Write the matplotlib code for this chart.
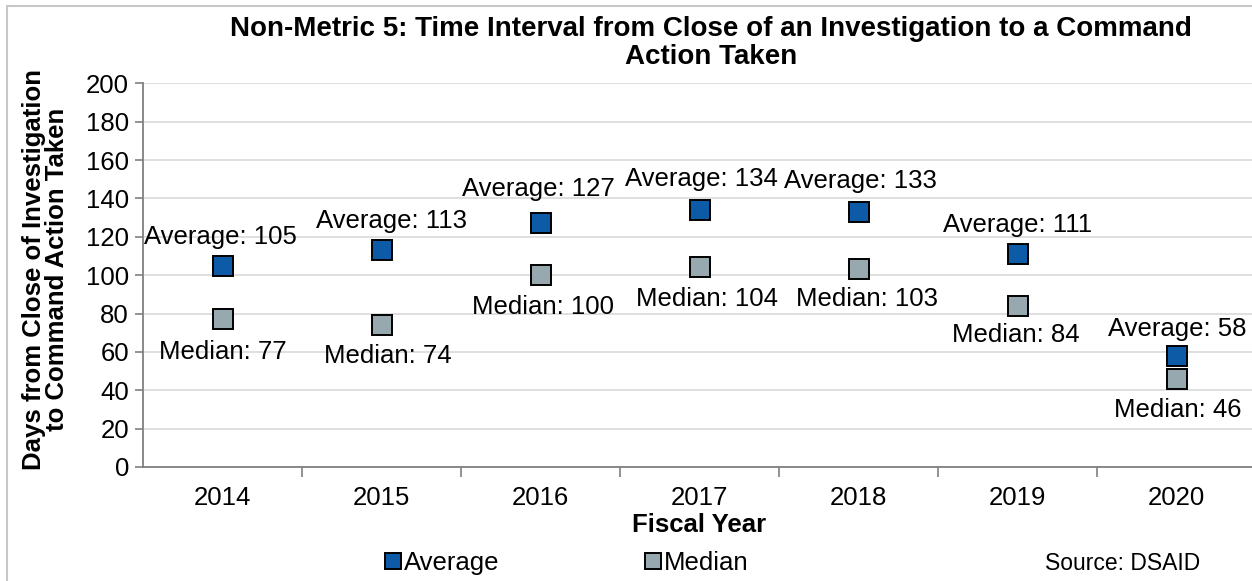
import matplotlib
matplotlib.use("Agg")
import matplotlib.pyplot as plt
from matplotlib.patches import Rectangle

plt.rcParams['font.family'] = ['Liberation Sans', 'DejaVu Sans']

years = ["2014", "2015", "2016", "2017", "2018", "2019", "2020"]
average = [105, 113, 127, 134, 133, 111, 58]
median = [77, 74, 100, 104, 103, 84, 46]

# label offsets in pixels (style only)
avg_off = [(-2, 29), (10, 29), (-2, 34), (2, 31), (2, 31), (0, 29), (1, 27)]
med_off = [(0, -33), (6, -31), (2, -32), (7, -32), (8, -30), (-2, -29), (1, -31)]

W, H = 1252, 581
fig = plt.figure(figsize=(W / 100, H / 100), dpi=100)
fig.patches.append(Rectangle((7 / W, -0.1), 1.2, 1 - 6 / H + 0.1, transform=fig.transFigure,
                             fill=False, edgecolor='#C8C8C8', linewidth=1.5))

ax = fig.add_axes([143 / W, 114 / H, 7 * 159 / W, 383.7 / H])
x = list(range(len(years)))
blue = '#0D5AA7'
gray = '#97A8AE'
ax.plot(x, average, 's', color=blue, markersize=14.5, markeredgecolor='black',
        markeredgewidth=1.4, label='Average', zorder=3, clip_on=False)
ax.plot(x, median, 's', color=gray, markersize=14.5, markeredgecolor='black',
        markeredgewidth=1.4, label='Median', zorder=3, clip_on=False)

fs = 18.5
for i in x:
    ax.annotate(f"Average: {average[i]}", (i, average[i]), xytext=avg_off[i],
                textcoords='offset pixels', ha='center', va='center', fontsize=fs)
    ax.annotate(f"Median: {median[i]}", (i, median[i]), xytext=med_off[i],
                textcoords='offset pixels', ha='center', va='center', fontsize=fs)

ax.set_xlim(-0.5, len(years) - 0.5)
ax.set_ylim(0, 200)
ax.set_yticks(range(0, 201, 20))
ax.set_xticks(x)
ax.set_xticklabels(years, fontsize=fs)
ax.tick_params(axis='x', length=0, pad=14)
ax.set_xticks([i + 0.5 for i in range(len(years) - 1)], minor=True)
ax.tick_params(axis='x', which='minor', length=7, color='#808080', width=1.2)
ax.tick_params(axis='y', labelsize=fs, length=6, color='#808080', width=1.2, pad=4)
for s in ['top', 'right']:
    ax.spines[s].set_visible(False)
for s in ['left', 'bottom']:
    ax.spines[s].set_color('#808080')
    ax.spines[s].set_linewidth(1.3)
ax.grid(axis='y', color='#D9D9D9', linewidth=1.2)
ax.set_axisbelow(True)

ax.set_xlabel("Fiscal Year", fontsize=fs, fontweight='bold', labelpad=2)
ax.set_ylabel("Days from Close of Investigation\nto Command Action Taken", fontsize=fs,
              fontweight='bold', labelpad=12, linespacing=0.95)
ax.yaxis.label.set_y(0.515)

fig.text(711 / W, 1 - 43 / H,
         "Non-Metric 5: Time Interval from Close of an Investigation to a Command\nAction Taken",
         ha='center', va='center', fontsize=20, fontweight='bold', linespacing=1.12)

leg = ax.legend(loc='center', bbox_to_anchor=(567 / W, 1 - 563 / H),
                bbox_transform=fig.transFigure, ncol=2, frameon=False, fontsize=fs,
                handlelength=0.6, handletextpad=0.1, columnspacing=5.7, markerscale=0.78)
fig.text(1045 / W, 1 - 563 / H, "Source: DSAID", ha='left', va='center', fontsize=16.5)

fig.savefig("out.png", dpi=100)
